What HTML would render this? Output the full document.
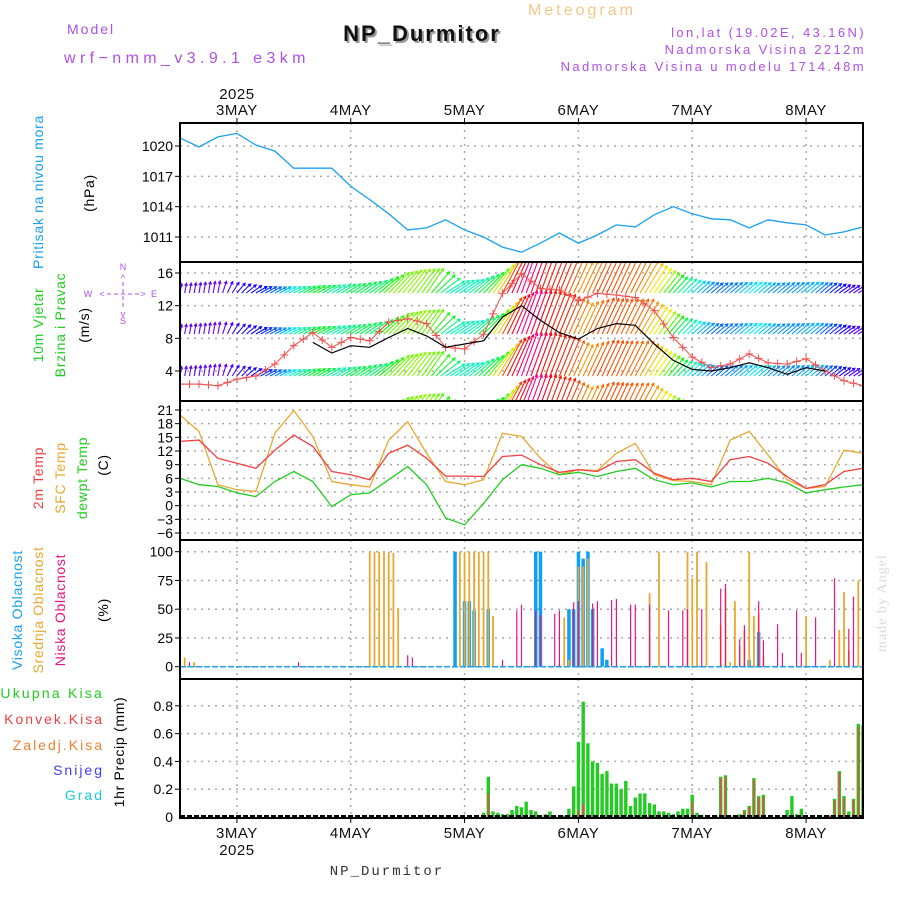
<!DOCTYPE html>
<html><head><meta charset="utf-8">
<style>
html,body{margin:0;padding:0;background:#fff;}
svg{display:block;font-family:"Liberation Sans",sans-serif;}
</style></head>
<body>
<svg id="chart" width="900" height="900" viewBox="0 0 900 900" xmlns="http://www.w3.org/2000/svg">
<g>
<text x="582" y="15" text-anchor="middle" font-size="16" fill="#f2c88a" letter-spacing="3">Meteogram</text>
<text x="424" y="43" text-anchor="middle" font-size="22" font-weight="bold" fill="#999" letter-spacing="2">NP_Durmitor</text>
<text x="422" y="41" text-anchor="middle" font-size="22" font-weight="bold" fill="#111" letter-spacing="2">NP_Durmitor</text>
<text x="67" y="34" font-size="14" fill="#b050e8" letter-spacing="2">Model</text>
<text x="64" y="63" font-size="16" fill="#b050e8" letter-spacing="4.4">wrf−nmm_v3.9.1 e3km</text>
<text x="866" y="37" text-anchor="end" font-size="13" fill="#b050e8" letter-spacing="2.4">lon,lat (19.02E, 43.16N)</text>
<text x="866" y="54" text-anchor="end" font-size="13" fill="#b050e8" letter-spacing="2.4">Nadmorska Visina 2212m</text>
<text x="866" y="71" text-anchor="end" font-size="13" fill="#b050e8" letter-spacing="2.4">Nadmorska Visina u modelu 1714.48m</text>
<text x="387" y="875" text-anchor="middle" font-size="14" fill="#333" font-family="Liberation Mono, monospace" letter-spacing="2">NP_Durmitor</text>
<text transform="translate(886,652) rotate(-90)" font-size="14" fill="#d6e0d6" font-family="Liberation Serif, serif" letter-spacing="1">made by Angel</text>
</g>
<g id="labels" font-size="14" letter-spacing="0.7">
<text transform="translate(43,192) rotate(-90)" text-anchor="middle" fill="#1aa0f0">Pritisak na nivou mora</text>
<text transform="translate(94,193) rotate(-90)" text-anchor="middle" fill="#000">(hPa)</text>
<text transform="translate(43,325) rotate(-90)" text-anchor="middle" fill="#22cc22">10m Vjetar</text>
<text transform="translate(65,325) rotate(-90)" text-anchor="middle" fill="#22cc22">Brzina i Pravac</text>
<text transform="translate(89,325) rotate(-90)" text-anchor="middle" fill="#000">(m/s)</text>
<text transform="translate(43,478) rotate(-90)" text-anchor="middle" fill="#f04040">2m Temp</text>
<text transform="translate(65,478) rotate(-90)" text-anchor="middle" fill="#e8a830">SFC Temp</text>
<text transform="translate(87,478) rotate(-90)" text-anchor="middle" fill="#22cc22">dewpt Temp</text>
<text transform="translate(108,465) rotate(-90)" text-anchor="middle" fill="#000">(C)</text>
<text transform="translate(22,610) rotate(-90)" text-anchor="middle" fill="#1aa0f0">Visoka Oblacnost</text>
<text transform="translate(43,610) rotate(-90)" text-anchor="middle" fill="#e8a830">Srednja Oblacnost</text>
<text transform="translate(65,610) rotate(-90)" text-anchor="middle" fill="#e8157f">Niska Oblacnost</text>
<text transform="translate(108,610) rotate(-90)" text-anchor="middle" fill="#000">(%)</text>
<text x="104" y="698" text-anchor="end" fill="#22cc22" letter-spacing="2.2">Ukupna Kisa</text>
<text x="104" y="724" text-anchor="end" fill="#f04040" letter-spacing="2">Konvek.Kisa</text>
<text x="104" y="750" text-anchor="end" fill="#f08030" letter-spacing="2">Zaledj.Kisa</text>
<text x="104" y="775" text-anchor="end" fill="#4040ee" letter-spacing="2">Snijeg</text>
<text x="104" y="800" text-anchor="end" fill="#20c8d8" letter-spacing="2">Grad</text>
<text transform="translate(124,752) rotate(-90)" text-anchor="middle" fill="#000">1hr Precip (mm)</text>
<g fill="#b050e8" font-size="9" text-anchor="middle" letter-spacing="0">
<text x="123" y="270">N</text><text x="123" y="324">S</text><text x="88" y="297">W</text><text x="154" y="297">E</text>
<text x="123" y="281">^</text><text x="123" y="317">v</text><text x="102" y="297">&lt;</text><text x="143" y="297">&gt;</text>
<line x1="107" y1="294" x2="139" y2="294" stroke="#b050e8" stroke-dasharray="4,3"/>
<line x1="123" y1="282" x2="123" y2="309" stroke="#b050e8" stroke-dasharray="4,3"/>
</g>
</g>
<g id="plots"></g>
</svg>
<script>
// ===== data =====
const dayLabels = ["3MAY","4MAY","5MAY","6MAY","7MAY","8MAY"];
const yearLabel = "2025";
const pressure = [1020.8,1019.9,1020.9,1021.25,1020.1,1019.5,1017.8,1017.8,1017.8,1016,1014.7,1013.3,1011.7,1011.9,1012.7,1011.7,1011,1010,1009.5,1010.4,1011.4,1010.4,1011.2,1012.2,1012,1013.2,1014,1013.3,1012.8,1012.7,1011.9,1012.7,1012.4,1012.2,1011.2,1011.5,1012];
const pressureTicks = [1011,1014,1017,1020];
const windGust = [2.4,2.4,2.2,3,3.4,4.85,7.1,8.7,6.9,8.1,7.7,10,10.4,9.8,6.9,6.7,8.5,13.5,15.9,14.1,13.9,12.6,13.5,13.3,13,11.4,8.1,5.7,4.4,4.85,6.1,5,4.85,5.5,4,2.8,2.2];
const windSpeed = [null,null,null,null,null,null,null,7.5,6.2,7.1,6.9,8.1,9.2,8.3,6.9,7.3,7.7,10.6,12,10.2,8.7,7.9,9.2,9.8,9.6,7.3,5.3,4.2,4,4.4,5,4.4,3.6,4.4,4,null,null];
const arrowSpeed = [3,3.3,3.8,4,4,4,4.2,4.5,5,5.5,6.7,9,9.3,9.3,7,7.3,9,12.7,14.3,14.3,13.3,10.7,12.3,12,12.3,9.3,6.7,5.5,4.8,5,5.2,4.8,5,5.2,4.8,4.2,4];
const windDir = [10,10,10,40,60,62,62,60,60,58,55,45,38,35,58,55,45,28,20,20,22,25,25,25,28,35,42,48,50,50,50,50,50,50,50,55,58];
const windTicks = [4,8,12,16];
const temp2m = [14.1,14.4,10.4,9.3,8.2,12.2,15.5,13,7.5,6.8,5.7,11.5,13.3,10.4,6.5,6.5,6.4,10.8,11.1,9,7.3,7.9,7.5,9.7,10.1,7.1,5.7,6,5.3,10.1,10.8,9.3,6.4,3.8,4.6,7.5,8.2];
const tempSfc = [19.9,16.3,4.6,3.5,3.1,15.9,20.9,15.2,5.3,4.6,4.1,14.4,18.4,11.5,5.3,4.6,5.7,15.9,15.2,10.4,6.8,7.9,7.7,11.5,13.7,6.8,5.5,5.3,4.6,14.4,16.3,11.1,5.7,3.8,4.2,12.2,11.5];
const tempDew = [6,4.6,4.2,2.8,2,5.3,7.5,5.3,-0.2,2.4,2.8,5.7,8.6,4.6,-2.7,-4.2,0.5,5.7,9,8.2,6.8,7.3,6.4,7.5,8.2,5.7,4.6,5,4.1,5.3,5.3,6,5,2.8,3.5,4.1,4.6];
const tempTicks = [-6,-3,0,3,6,9,12,15,18,21];
const midCloudHours = [1,3,40,41,42,43,44,45,46,59,60,61,62,63,64,65,66,80,81,82,84,85,86,99,101,107,108,109,111,114,115,116,117,118,119,120,121,122,123,132,136,137,139,140,141,143];
const midCloudVals = [8,4,100,100,100,100,100,99,51,100,100,100,100,100,100,100,44,3,43,6,87,87,94,64,100,100,77,100,91,36,68,4,57,18,31,100,44,46,10,44,1,6,32,65,14,75];
const highCloudHours = [58,60,61,62,65,75,76,82,83,84,85,86,87,89,90,120,122];
const highCloudVals = [100,57,57,49,50,100,100,50,50,100,94,100,50,16,6,6,30];
const lowCloudHours = [2,25,48,49,68,71,72,75,76,79,80,83,84,87,88,91,92,95,96,99,103,106,107,110,114,115,118,119,122,123,126,127,130,131,134,138,141,142];
const lowCloudVals = [4,4,10,8,6,49,54,49,45,46,49,56,57,55,57,58,59,54,54,54,49,49,50,50,68,72,24,36,57,23,37,12,49,12,43,77,33,61];
const cloudTicks = [0,25,50,75,100];
const precipHours = [64,65,66,67,68,69,70,71,72,73,74,75,76,77,78,79,81,82,83,84,85,86,87,88,89,90,91,92,93,94,95,96,97,98,99,100,101,102,103,104,105,106,107,108,109,110,113,114,115,116,118,119,120,121,122,123,128,129,130,131,136,137,138,139,140,141,142,143,144];
const precipTotal = [0.03,0.29,0.04,0.03,0.02,0.02,0.05,0.08,0.07,0.11,0.05,0.04,0.01,0.02,0.04,0.01,0.01,0.06,0.22,0.54,0.83,0.53,0.4,0.39,0.31,0.33,0.24,0.24,0.2,0.26,0.08,0.14,0.17,0.17,0.1,0.09,0.04,0.04,0.03,0.02,0.04,0.06,0.06,0.16,0.03,0.01,0.01,0.29,0.3,0.01,0.02,0.05,0.08,0.28,0.15,0.16,0.05,0.15,0.02,0.06,0.01,0.01,0.13,0.33,0.15,0.04,0.13,0.67,0.66];
const precipConv = [0.02,0.17,0,0,0,0,0,0,0,0,0,0,0,0,0,0,0,0,0,0.05,0.09,0,0,0,0,0,0,0,0,0,0,0,0,0,0,0,0,0,0,0,0,0,0,0.11,0,0,0.01,0.28,0.29,0,0.01,0.04,0.07,0.27,0.14,0.15,0,0,0,0,0.01,0.01,0.12,0.32,0.14,0,0.12,0.65,0.66];
const precipTicks = [0,0.2,0.4,0.6,0.8];

// ===== layout =====
const NS="http://www.w3.org/2000/svg";
const root=document.getElementById('plots');
const X0=180, X1=863, HOURS=144;
const P=[{t:123,b:262},{t:262,b:401},{t:401,b:540},{t:540,b:679},{t:679,b:818}];
function xh(h){return X0+h*(X1-X0)/HOURS;}
function xi(i,n){return xh(i*HOURS/(n-1));}
function mk(tag,attrs,parent){const e=document.createElementNS(NS,tag);for(const k in attrs)e.setAttribute(k,attrs[k]);(parent||root).appendChild(e);return e;}
const yP=v=>146+(1020-v)*(91/9);
const yW=v=>273+(16-v)*(98/12);
const yT=v=>410+(21-v)*(123/27);
const yC=v=>666.7-v*1.15;
const yR=v=>817-v*139;

const defs=mk('defs',{});
P.forEach((p,k)=>{const c=mk('clipPath',{id:'clip'+k},defs);mk('rect',{x:X0,y:p.t,width:X1-X0,height:p.b-p.t},c);});

function grid(k,ticks,yf){
  const g=mk('g',{});
  
  
  for(let d=0;d<dayLabels.length;d++){const x=xh(12+24*d);mk('line',{x1:x,x2:x,y1:P[k].t,y2:P[k].b,stroke:'#aaa','stroke-dasharray':'2,5','stroke-width':1.5},g);}
  ticks.forEach(v=>{const y=yf(v);
    if(y>P[k].t+2&&y<P[k].b-2) mk('line',{x1:X0,x2:X1,y1:y,y2:y,stroke:'#aaa','stroke-dasharray':'2,5','stroke-width':1.5},g);
    mk('line',{x1:X0-5,x2:X0,y1:y,y2:y,stroke:'#000'},g);
    const t=mk('text',{x:X0-7,y:y+5,'text-anchor':'end','font-size':14,fill:'#000'},g);
    
    
    t.textContent=(v<0?'−'+(-v):String(v));});
}
grid(0,pressureTicks,yP);grid(1,windTicks,yW);grid(2,tempTicks,yT);grid(3,cloudTicks,yC);grid(4,precipTicks.slice(1),yR);
{const t=mk('text',{x:X0-7,y:yR(0)+5,'text-anchor':'end','font-size':14},root);t.textContent='0';}

function line(arr,yf,color,name,k,w){
  let d='';let pen=false;
  arr.forEach((v,i)=>{if(v==null){pen=false;return;}d+=(pen?'L':'M')+xi(i,arr.length).toFixed(1)+','+yf(v).toFixed(1);pen=true;});
  const p=mk('path',{d:d,fill:'none',stroke:color,'stroke-width':w||1.3,'clip-path':'url(#clip'+k+')'});
  
  
  return p;
}
line(pressure,yP,'#1aa0f0','pressure-line',0);

const wg=mk('g',{'clip-path':'url(#clip1)'});


function interp(arr,h){const f=h/4;const i=Math.min(Math.floor(f),arr.length-2);const r=f-i;return arr[i]*(1-r)+arr[i+1]*r;}
const rowBases=[293,334,376,418];
rowBases.forEach(by=>{
  for(let h=0;h<=HOURS;h++){
    const s=interp(arrowSpeed,h), dir=interp(windDir,h)*Math.PI/180, gst=interp(windGust,h);
    const L=s*3.2, x=xh(h);
    const x2=x+L*Math.sin(dir), y2=by-L*Math.cos(dir);
    let hue=270-(gst-2)*22; if(hue<0)hue+=360;
    const col='hsl('+hue.toFixed(0)+',95%,50%)';
    const a=mk('path',{d:'M'+x.toFixed(1)+','+by+'L'+x2.toFixed(1)+','+y2.toFixed(1)+
      'M'+(x2-3*Math.sin(dir-0.5)).toFixed(1)+','+(y2+3*Math.cos(dir-0.5)).toFixed(1)+'L'+x2.toFixed(1)+','+y2.toFixed(1)+
      'L'+(x2-3*Math.sin(dir+0.5)).toFixed(1)+','+(y2+3*Math.cos(dir+0.5)).toFixed(1),
      stroke:col,'stroke-width':1.1,fill:'none'},wg);
    
    
  }
});
line(windGust,yW,'#f05050','wind-gust-line',1,1);
const mg=mk('g',{'clip-path':'url(#clip1)',stroke:'#f05050','stroke-width':1});


windGust.forEach((v,i)=>{const x=xi(i,windGust.length),y=yW(v);
  mk('path',{d:'M'+(x-4)+','+y+'h8M'+x+','+(y-4)+'v8'},mg);
  if(i<windGust.length-1){const x2=(x+xi(i+1,windGust.length))/2,y2=(y+yW(windGust[i+1]))/2;mk('path',{d:'M'+(x2-4)+','+y2+'h8M'+x2+','+(y2-4)+'v8'},mg);}
});
line(windSpeed,yW,'#000','wind-speed-line',1,1.2);

line(tempSfc,yT,'#e8a830','sfc-temp-line',2);
line(temp2m,yT,'#f04040','temp-2m-line',2);
line(tempDew,yT,'#22cc22','dewpoint-line',2);

function bars(hours,vals,yf,y0,color,w,name,k){
  const g=mk('g',{'clip-path':'url(#clip'+k+')'});
  
  
  hours.forEach((h,i)=>{const v=vals[i];if(!v)return;const y=yf(v);
    const r=mk('rect',{x:(xh(h)-w/2).toFixed(1),y:y.toFixed(1),width:w,height:(y0-y).toFixed(1),fill:color},g);
    
    });
}
bars(highCloudHours,highCloudVals,yC,yC(0),'#10a0f0',3.5,'high-cloud',3);
bars(midCloudHours,midCloudVals,yC,yC(0),'#e8a830',1.8,'mid-cloud',3);
bars(lowCloudHours,lowCloudVals,yC,yC(0),'#e8157f',1.2,'low-cloud',3);
mk('line',{x1:X0,x2:X1,y1:yC(0),y2:yC(0),stroke:'#1aa0f0','stroke-width':1.5,'stroke-dasharray':'6,2'});

bars(precipHours,precipTotal,yR,yR(0),'#22cc22',3.4,'total-precip',4);
bars(precipHours,precipConv,yR,yR(0),'#f04848',1.6,'conv-precip',4);
mk('line',{x1:X0,x2:X1,y1:yR(0)-1,y2:yR(0)-1,stroke:'#000','stroke-width':2,'stroke-dasharray':'5,2'});

P.forEach((p,k)=>{const r=mk('rect',{x:X0,y:p.t,width:X1-X0,height:p.b-p.t,fill:'none',stroke:'#000','stroke-width':2});
  
  });

dayLabels.forEach((lab,d)=>{const x=xh(12+24*d);
  mk('line',{x1:x,x2:x,y1:118,y2:123,stroke:'#000'});
  mk('line',{x1:x,x2:x,y1:818,y2:823,stroke:'#000'});
  const t=mk('text',{x:x,y:115,'text-anchor':'middle','font-size':15,fill:'#111','letter-spacing':0.5});
  
  
  t.textContent=lab;
  const b=mk('text',{x:x,y:838,'text-anchor':'middle','font-size':15,fill:'#111','letter-spacing':0.5});
  
  
  b.textContent=lab;});
{const t=mk('text',{x:xh(12),y:99,'text-anchor':'middle','font-size':15,fill:'#111','letter-spacing':0.5});
 
 
 t.textContent=yearLabel;
 const b=mk('text',{x:xh(12),y:855,'text-anchor':'middle','font-size':15,fill:'#111','letter-spacing':0.5});
 
 
 b.textContent=yearLabel;}
</script>
</body></html>
